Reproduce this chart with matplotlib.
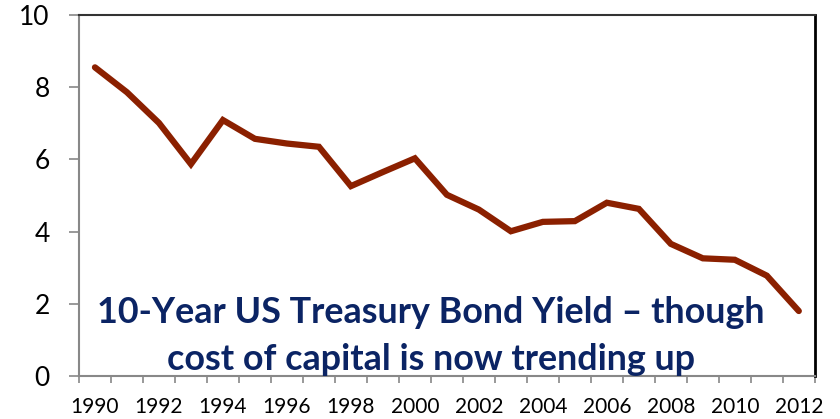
import matplotlib.pyplot as plt
import numpy as np

years = list(range(1990, 2013))
yields = [8.55, 7.86, 7.01, 5.87, 7.09, 6.57, 6.44, 6.35, 5.26, 5.65, 6.03, 5.02,
          4.61, 4.01, 4.27, 4.29, 4.80, 4.63, 3.66, 3.26, 3.22, 2.78, 1.80]
tick_years = years[::2]
caption = ['10-Year US Treasury Bond Yield \u2013 though',
           'cost of capital is now trending up']

plt.rcParams['font.family'] = ['Lato', 'DejaVu Sans']

fig = plt.figure(figsize=(8.4, 4.19), dpi=100)
ax = fig.add_axes([0.094, 0.1026, 0.876, 0.8616])

# category axis: points sit in the middle of each year slot
pos = np.arange(len(years)) + 0.5
ax.plot(pos, yields, color='#8B2000', linewidth=4.5, solid_capstyle='round',
        solid_joinstyle='miter')

ax.set_xlim(0, len(years))
ax.set_ylim(0, 10)
ax.set_yticks(range(0, 11, 2))
ax.tick_params(axis='y', labelsize=19, length=7, width=1.2, color='#888888', pad=14)

ax.set_xticks(np.arange(len(years) + 1), minor=False)
ax.set_xticklabels([])
ax.set_xticks([p for y, p in zip(years, pos) if y in tick_years], minor=True)
ax.set_xticklabels([str(y) for y in tick_years], minor=True)
ax.tick_params(axis='x', which='major', length=5, width=1.2, color='#888888')
ax.tick_params(axis='x', which='minor', length=0, labelsize=15, pad=15)

for side in ('left', 'bottom'):
    ax.spines[side].set_color('#888888')
    ax.spines[side].set_linewidth(1.5)
ax.spines['top'].set_color('#333333')
ax.spines['top'].set_linewidth(1.5)
ax.spines['right'].set_color('black')
ax.spines['right'].set_linewidth(2)

# two-line caption inside the plot, baselines in data units
for line, base in zip(caption, [1.47, 0.18]):
    ax.text(11.0, base, line, ha='center', va='baseline', fontsize=25.8,
            fontweight='bold', color='#0B2464')

fig.savefig('out.png', dpi=100)
